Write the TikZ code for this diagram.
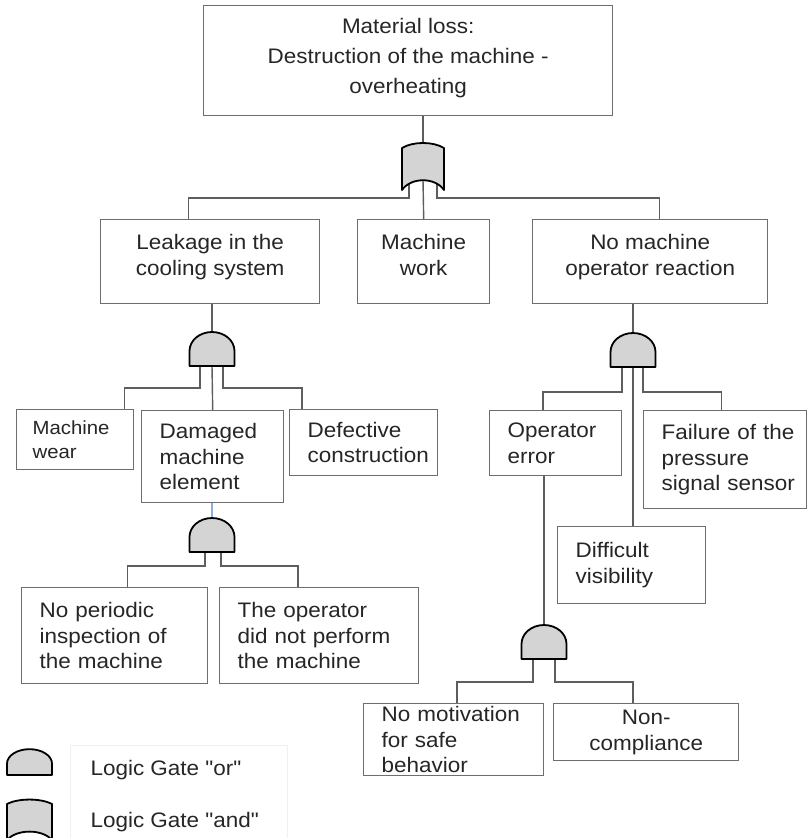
\documentclass[tikz,border=0pt]{standalone}
\usepackage{fontspec}
\setmainfont{Liberation Sans}[FakeStretch=1.07, Ligatures=TeXOff]
\definecolor{boxgray}{HTML}{6E6E6E}
\definecolor{wiregray}{HTML}{5E5E5E}
\definecolor{gatefill}{HTML}{D4D4D4}
\definecolor{textgray}{HTML}{262626}
\definecolor{wireblue}{HTML}{8AAEE0}
\tikzset{
    event/.style={draw=boxgray, line width=1.4pt, fill=white, text=textgray, anchor=north west, inner sep=0pt, font=\fontsize{21}{25.5}\selectfont},
    eventc/.style={event, align=center},
    eventl/.style={event, align=left, inner xsep=18pt, execute at begin node={\hyphenpenalty=10000}},
    wire/.style={draw=wiregray, line width=1.4pt},
    bluewire/.style={draw=wireblue, line width=1.2pt},
    gate/.style={draw=black, fill=gatefill, line width=1.8pt, line join=round},
    keytext/.style={anchor=west, text=textgray, font=\fontsize{21}{25}\selectfont}
}
\newcommand{\orgate}{
    % Gate with flat base and round top
    \filldraw[gate] (-22.5,0) -- (-22.5,-15) .. controls (-22.5,-25.5) and (-12.4,-34) .. (0,-34)
        .. controls (12.4,-34) and (22.5,-25.5) .. (22.5,-15) -- (22.5,0) -- cycle;
}
\newcommand{\andgate}{
    % Gate with bowed top and hollow base
    \filldraw[gate] (-21,0) -- (-21,-42) .. controls (-10,-48.7) and (10,-48.7) .. (21,-42)
        -- (21,0) .. controls (12,-13) and (-12,-13) .. (-21,0) -- cycle;
}
\begin{document}
\begin{tikzpicture}[x=1pt, y=-1pt]
    \useasboundingbox (0,0) rectangle (808,838);

    % Top event
    \node[eventc, minimum width=409, minimum height=110, text depth=10pt, font=\fontsize{21}{30}\selectfont] (loss) at (203,5) {Material loss:\\Destruction of the machine -\\overheating};

    % First level
    \begin{scope}[every node/.append style={font=\fontsize{21}{27}\selectfont, text depth=14pt}]
        \node[eventc, minimum width=219, minimum height=84] (leak) at (100,219) {Leakage in the\\cooling system};
        \node[eventc, minimum width=132, minimum height=84] (work) at (357,219) {Machine\\work};
        \node[eventc, minimum width=235, minimum height=84] (react) at (532,219) {No machine\\operator reaction};
    \end{scope}

    % Causes of the leakage
    \node[eventl, inner xsep=16pt, text width=85, minimum height=60, font=\fontsize{19}{24}\selectfont] (wear) at (16,409) {Machine\\wear};
    \node[eventl, text width=106, minimum height=92] (damaged) at (141,410) {Damaged\\machine\\element};
    \node[eventl, text width=112, minimum height=66] (defect) at (289,409) {Defective\\construction};
    \node[eventl, text width=150, minimum height=96] (periodic) at (21,587) {No~periodic\\inspection~of\\the~machine};
    \node[eventl, text width=163, minimum height=96] (perform) at (219,587) {The~operator\\did~not~perform\\the~machine};

    % Causes of the missing reaction
    \node[eventl, text width=96, minimum height=65] (operr) at (489,410) {Operator\\error};
    \node[eventl, text width=127, minimum height=98] (failure) at (643,410) {Failure~of~the\\pressure\\signal~sensor};
    \node[eventl, text width=112, minimum height=77] (visib) at (557,526) {Difficult\\visibility};
    \node[eventl, text width=144, minimum height=72] (motiv) at (363,703) {No~motivation\\for~safe\\behavior};
    \node[eventc, minimum width=185, minimum height=57] (noncomp) at (553,703) {Non-\\compliance};

    % Gate positions (middle of the base)
    \coordinate (g1) at (423,190);
    \coordinate (g2) at (212,366);
    \coordinate (g3) at (212,552);
    \coordinate (g4) at (633,367);
    \coordinate (g5) at (544,659);

    % Connectors
    \draw[wire] ([yshift=40pt]g1) -- (g1 |- loss.south);
    \draw[wire] ([xshift=-14pt,yshift=10pt]g1) -- ++(0,18) -| ([xshift=-22pt]leak.north);
    \draw[wire] ([yshift=10pt]g1) -- (work.north);
    \draw[wire] ([xshift=14pt,yshift=10pt]g1) -- ++(0,18) -| ([xshift=9pt]react.north);

    \draw[wire] ([yshift=20pt]g2) -- (g2 |- leak.south);
    \draw[wire] ([xshift=-12pt]g2) -- ++(0,22) -| ([xshift=-10pt]wear.north east);
    \draw[wire] (g2) -- (damaged.north);
    \draw[wire] ([xshift=11pt]g2) -- ++(0,22) -| ([xshift=13pt]defect.north west);

    \draw[bluewire] ([yshift=20pt]g3) -- (g3 |- damaged.south);
    \draw[wire] ([xshift=-7pt]g3) -- ++(0,14) -| ([xshift=13pt]periodic.north);
    \draw[wire] ([xshift=9pt]g3) -- ++(0,14) -| ([xshift=79pt]perform.north west);

    \draw[wire] ([yshift=20pt]g4) -- (g4 |- react.south);
    \draw[wire] ([xshift=-11pt]g4) -- ++(0,25) -| ([xshift=54pt]operr.north west);
    \draw[wire] (g4) -- (g4 |- visib.north);
    \draw[wire] ([xshift=10pt]g4) -- ++(0,25) -| ([xshift=-3.5pt]failure.north);

    \draw[wire] ([yshift=20pt]g5) -- (g5 |- operr.south);
    \draw[wire] ([xshift=-11pt]g5) -- ++(0,23) -| ([xshift=94pt]motiv.north west);
    \draw[wire] ([xshift=11pt]g5) -- ++(0,23) -| ([xshift=80pt]noncomp.north west);

    % Gates
    \begin{scope}[shift={(g1)}]
        \andgate;
    \end{scope}
    \foreach \g in {g2, g3, g4, g5} {
        \begin{scope}[shift={(\g)}]
            \orgate;
        \end{scope}
    }

    % Legend
    \draw[draw=black!6, line width=1pt] (70,745) rectangle (287,850);
    \coordinate (orkey) at (29.5,775);
    \coordinate (andkey) at (29.5,840);
    \begin{scope}[shift={(orkey)}, yscale=0.76]
        \orgate;
    \end{scope}
    \begin{scope}[shift={(andkey)}, xscale=1.07, yscale=0.86]
        \andgate;
    \end{scope}
    \node[keytext] (orlabel) at (87,770) {Logic Gate "or"};
    \node[keytext] (andlabel) at (87,822) {Logic Gate "and"};
\end{tikzpicture}
\end{document}
